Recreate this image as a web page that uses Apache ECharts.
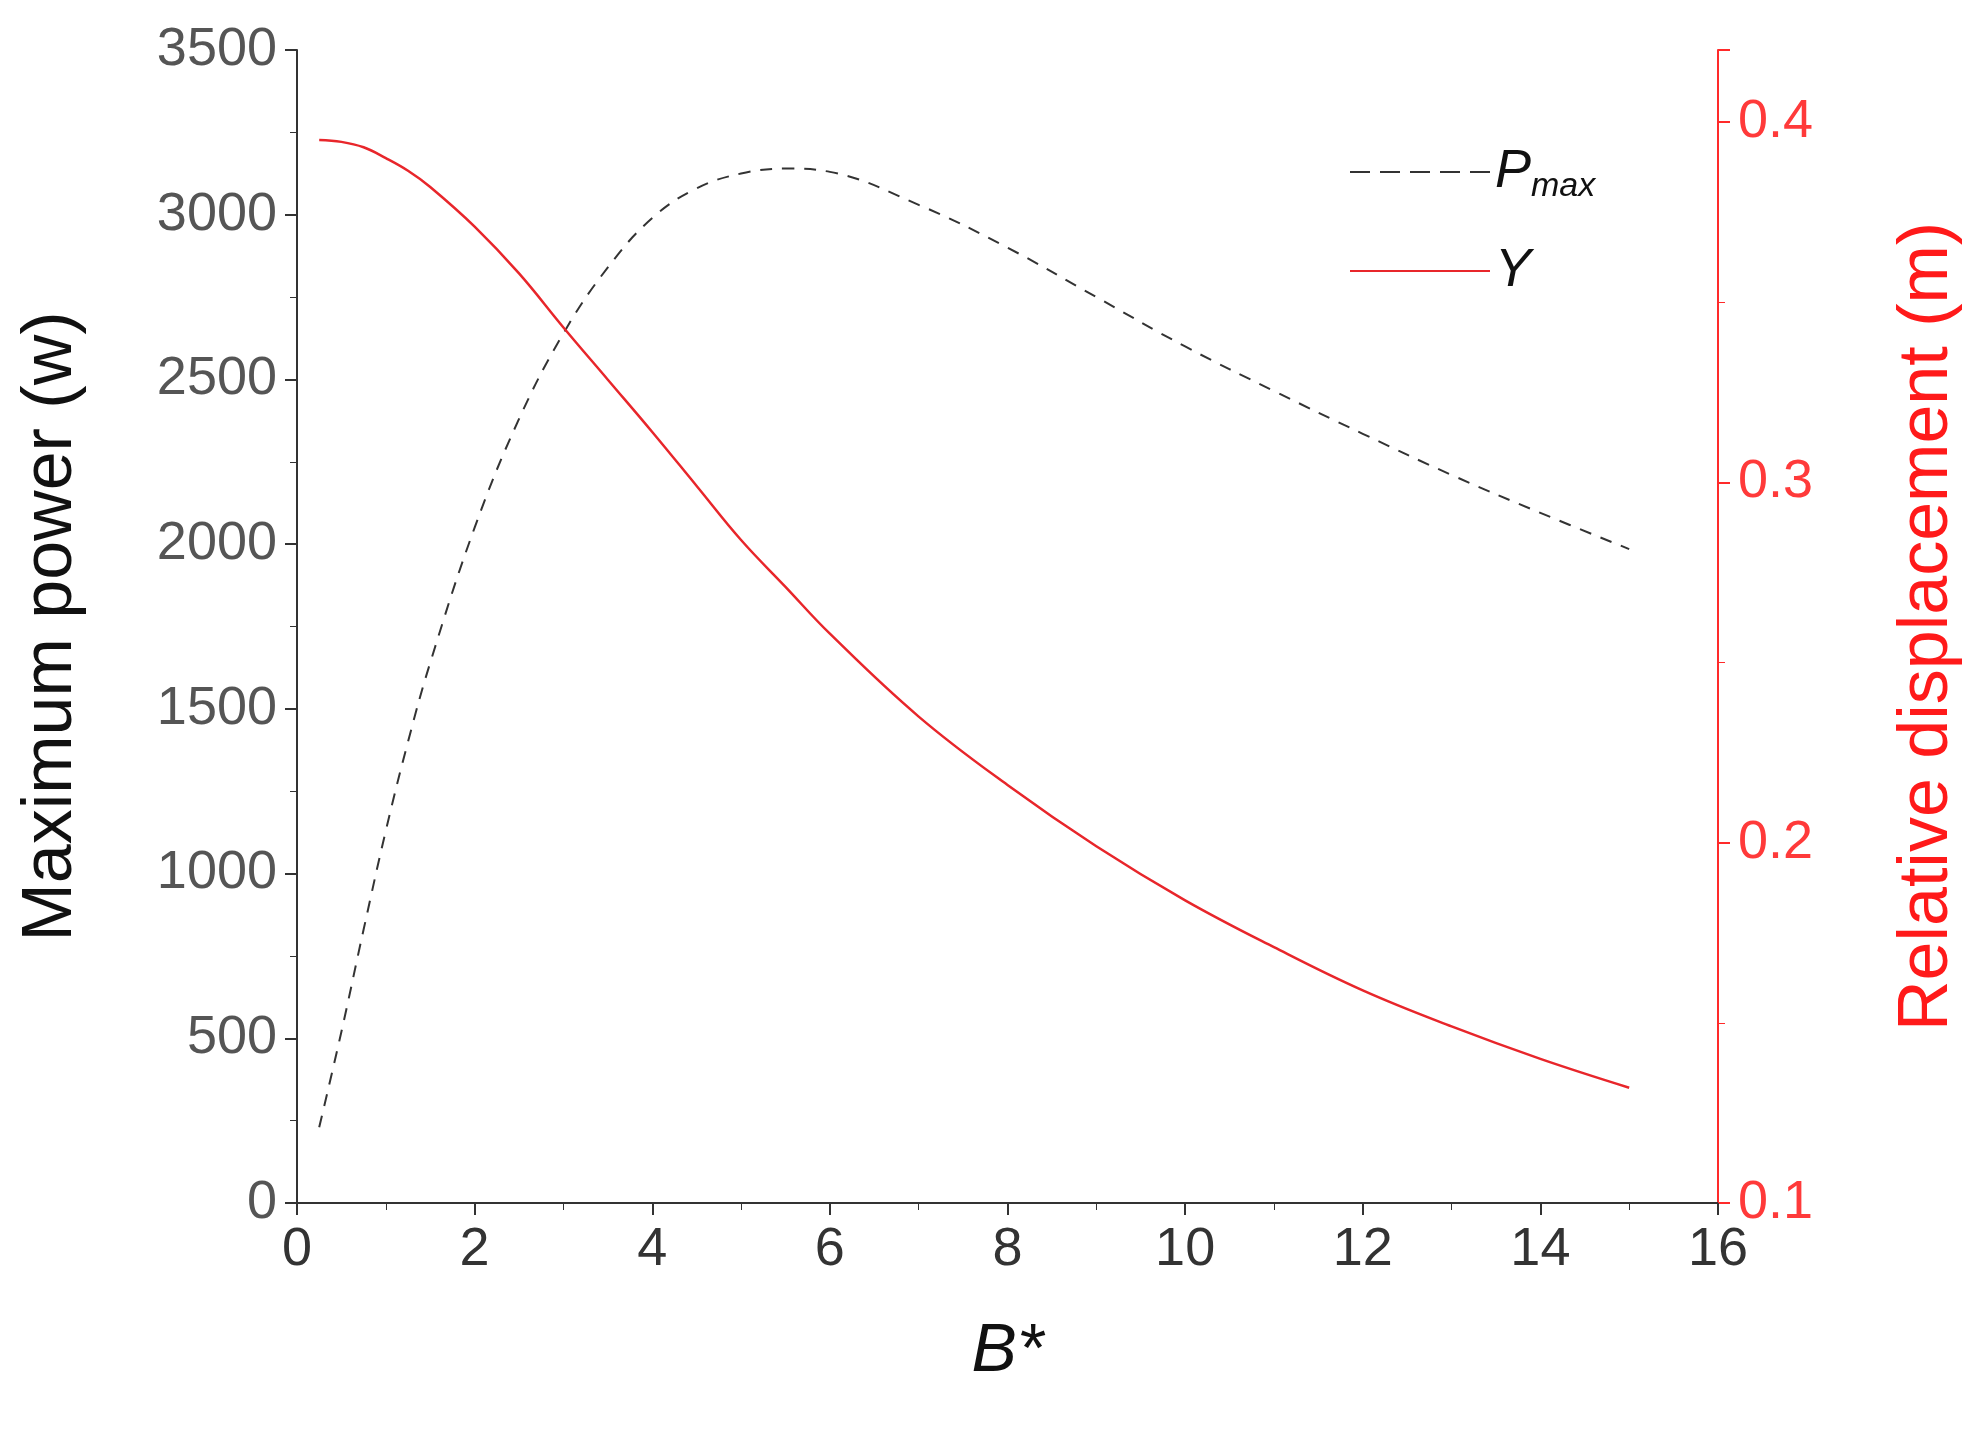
<!DOCTYPE html>
<html>
<head>
<meta charset="utf-8">
<script src="https://cdn.jsdelivr.net/npm/echarts@6/dist/echarts.min.js"></script>
<style>html,body{margin:0;background:#fff}#c{width:1971px;height:1433px}</style>
</head>
<body>
<div id="c"></div>
<script>
var bStar = [0.25, 0.5, 0.75, 1, 1.25, 1.5, 2, 2.5, 3, 3.5, 4, 4.5, 5, 5.5, 6, 7, 8, 9, 10, 11, 12, 13, 14, 15];
var pMax = [230, 520, 830, 1130, 1400, 1640, 2050, 2380, 2640, 2840, 2990, 3080, 3125, 3140, 3130, 3030, 2900, 2750, 2600, 2465, 2335, 2210, 2095, 1985];
var yDisp = [0.395, 0.3945, 0.393, 0.390, 0.3865, 0.382, 0.371, 0.358, 0.343, 0.3285, 0.314, 0.299, 0.284, 0.271, 0.258, 0.235, 0.216, 0.199, 0.184, 0.171, 0.159, 0.149, 0.140, 0.132];

function pairs(xs, ys) {
    return xs.map(function (x, i) { return [x, ys[i]]; });
}

var chart = echarts.init(document.getElementById("c"));
var font = "Liberation Sans, Arial, sans-serif";
chart.setOption({
    animation: false,
    grid: { left: 297, right: 248, top: 50, bottom: 230 },
    legend: {
        orient: "vertical",
        left: 1345, top: 140,
        itemWidth: 140, itemHeight: 20, itemGap: 40,
        textStyle: {
            fontFamily: font, fontSize: 54, color: "#111",
            rich: {
                i: { fontStyle: "italic", fontSize: 54, fontFamily: font },
                s: { fontStyle: "italic", fontSize: 34, fontFamily: font, padding: [30, 0, 0, 0] }
            }
        },
        formatter: function (n) {
            return n === "Pmax" ? "{i|P}{s|max}" : "{i|Y}";
        },
        data: [
            { name: "Pmax", icon: "path://M0,9H20V11H0Z M30,9H50V11H30Z M60,9H80V11H60Z M90,9H110V11H90Z M120,9H140V11H120Z", itemStyle: { color: "#333" } },
            { name: "Y", icon: "path://M0,9H140V11H0Z", itemStyle: { color: "#e8262b" } }
        ]
    },
    xAxis: {
        type: "value", min: 0, max: 16, interval: 2,
        name: "B*", nameLocation: "middle", nameGap: 115,
        nameTextStyle: { fontFamily: font, fontSize: 68, fontStyle: "italic", color: "#111" },
        axisLine: { lineStyle: { color: "#333", width: 2 } },
        axisTick: { length: 12, lineStyle: { color: "#333", width: 2 } },
        minorTick: { show: true, splitNumber: 2, length: 7, lineStyle: { color: "#333" } },
        splitLine: { show: false },
        axisLabel: { fontFamily: font, fontSize: 54, color: "#333", margin: 20 }
    },
    yAxis: [{
        type: "value", min: 0, max: 3500, interval: 500,
        name: "Maximum power (w)", nameLocation: "middle", nameGap: 210, nameRotate: 90,
        nameTextStyle: { fontFamily: font, fontSize: 70, color: "#111" },
        axisLine: { show: true, lineStyle: { color: "#333", width: 2 } },
        axisTick: { show: true, length: 12, lineStyle: { color: "#333", width: 2 } },
        minorTick: { show: true, splitNumber: 2, length: 7, lineStyle: { color: "#333" } },
        splitLine: { show: false },
        axisLabel: { fontFamily: font, fontSize: 54, color: "#555", margin: 20,
            formatter: function (v) { return String(v); } }
    }, {
        type: "value", min: 0.1, max: 0.42, interval: 0.1,
        name: "Relative displacement (m)", nameLocation: "middle", nameGap: 175, nameRotate: 90,
        nameTextStyle: { fontFamily: font, fontSize: 70, color: "#ff1a1a" },
        axisLine: { show: true, lineStyle: { color: "#ff2a2a", width: 2 } },
        axisTick: { show: true, length: 12, lineStyle: { color: "#ff2a2a", width: 2 } },
        minorTick: { show: true, splitNumber: 2, length: 7, lineStyle: { color: "#ff2a2a" } },
        splitLine: { show: false },
        axisLabel: { fontFamily: font, fontSize: 54, color: "#ff3a3a", margin: 20, showMaxLabel: false,
            formatter: function (v) { return v.toFixed(1); } }
    }],
    series: [{
        name: "Pmax", type: "line", smooth: 0.4, symbol: "none", yAxisIndex: 0,
        lineStyle: { color: "#333", width: 2, type: [12, 10] },
        data: pairs(bStar, pMax)
    }, {
        name: "Y", type: "line", smooth: 0.4, symbol: "none", yAxisIndex: 1,
        lineStyle: { color: "#e8262b", width: 2.5 },
        data: pairs(bStar, yDisp)
    }]
});
</script>
</body>
</html>
